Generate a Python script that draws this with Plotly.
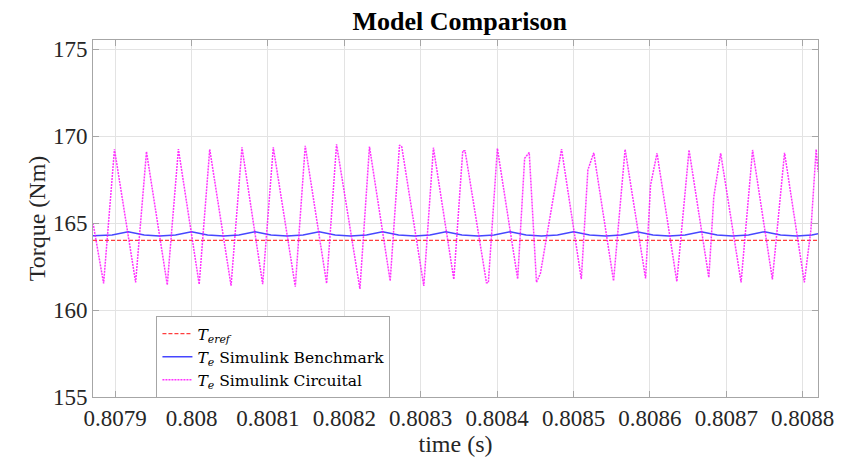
import plotly.graph_objects as go

# ---- data ----
x_ticks = [0.8079, 0.8080, 0.8081, 0.8082, 0.8083, 0.8084, 0.8085, 0.8086, 0.8087, 0.8088]
x_tick_labels = ["0.8079", "0.808", "0.8081", "0.8082", "0.8083", "0.8084", "0.8085", "0.8086", "0.8087", "0.8088"]
y_ticks = [155, 160, 165, 170, 175]
y_tick_labels = ["155", "160", "165", "170", "175"]

t_ref = [0.807871, 0.808820]
te_ref = [164.0, 164.0]

t_bench = [0.807871, 0.807896, 0.807917, 0.807938, 0.807958, 0.807979,
           0.808000, 0.808021, 0.808042, 0.808062,
           0.808083, 0.808104, 0.808125, 0.808146,
           0.808167, 0.808188, 0.808208, 0.808229,
           0.808250, 0.808271, 0.808292, 0.808312,
           0.808333, 0.808354, 0.808375, 0.808396,
           0.808417, 0.808438, 0.808458, 0.808479,
           0.808500, 0.808521, 0.808542, 0.808562,
           0.808583, 0.808604, 0.808625, 0.808646,
           0.808667, 0.808688, 0.808708, 0.808729,
           0.808750, 0.808771, 0.808792, 0.808812, 0.808820]
te_bench = [164.27, 164.31, 164.50, 164.31, 164.25, 164.31,
            164.50, 164.31, 164.25, 164.31,
            164.50, 164.31, 164.25, 164.31,
            164.50, 164.31, 164.25, 164.31,
            164.50, 164.31, 164.25, 164.31,
            164.50, 164.31, 164.25, 164.31,
            164.50, 164.31, 164.25, 164.31,
            164.50, 164.31, 164.25, 164.31,
            164.50, 164.31, 164.25, 164.31,
            164.50, 164.31, 164.25, 164.31,
            164.50, 164.31, 164.25, 164.31, 164.38]

t_circ = [0.807871, 0.8078849, 0.8078991, 0.8079268, 0.8079410, 0.8079682,
          0.8079828, 0.8080100, 0.8080238, 0.8080517, 0.8080660, 0.8080931,
          0.8081070, 0.8081358, 0.8081488, 0.8081768, 0.8081898, 0.8082204,
          0.8082329, 0.8082600, 0.8082722, 0.8082752, 0.8083040, 0.8083166,
          0.8083433, 0.8083550, 0.8083580, 0.8083860, 0.8083885, 0.8084003,
          0.8084269, 0.8084360, 0.8084420, 0.8084515, 0.8084567, 0.8084843,
          0.8085102, 0.8085188, 0.8085265, 0.8085524, 0.8085675, 0.8085943,
          0.8086008, 0.8086093, 0.8086352, 0.8086512, 0.8086771, 0.8086836,
          0.8086926, 0.8087193, 0.8087344, 0.8087603, 0.8087762, 0.8088021,
          0.8088107, 0.8088176, 0.8088200]
te_circ = [165.00, 161.53, 169.24, 161.59, 169.10, 161.44,
           169.25, 161.48, 169.24, 161.40, 169.35, 161.48,
           169.35, 161.34, 169.44, 161.53, 169.52, 161.21,
           169.39, 161.67, 169.48, 169.37, 161.38, 169.33,
           161.76, 169.16, 169.16, 161.57, 161.57, 169.29,
           161.78, 168.72, 169.06, 161.59, 162.11, 169.25,
           161.78, 168.05, 169.04, 161.67, 169.24, 161.82,
           167.18, 169.01, 161.63, 169.20, 161.86, 166.51,
           169.01, 161.59, 169.20, 161.76, 169.04, 161.59,
           164.60, 169.24, 167.95]

FONT = "Liberation Serif"

fig = go.Figure()
fig.add_trace(go.Scatter(
    x=t_ref, y=te_ref, mode="lines",
    name="<i>T</i><sub><i>eref</i></sub>",
    line=dict(color="rgba(255,40,40,0.9)", width=1.3, dash="4px,2px")))
fig.add_trace(go.Scatter(
    x=t_bench, y=te_bench, mode="lines",
    name="<i>T</i><sub><i>e</i></sub> Simulink Benchmark",
    line=dict(color="rgb(70,70,255)", width=1.4)))
fig.add_trace(go.Scatter(
    x=t_circ, y=te_circ, mode="lines",
    name="<i>T</i><sub><i>e</i></sub> Simulink Circuital",
    line=dict(color="rgba(255,0,255,0.8)", width=1.5, dash="2px,1px")))

axis_common = dict(
    showline=True, linecolor="#a6a6a6", linewidth=1, mirror="allticks",
    ticks="inside", ticklen=6, tickcolor="#a6a6a6",
    showgrid=True, gridcolor="#e3e3e3", gridwidth=1, zeroline=False,
    tickfont=dict(family=FONT, size=23, color="#262626"),
)

fig.update_layout(
    width=846, height=463,
    margin=dict(l=93, r=18, t=40, b=66),
    paper_bgcolor="white", plot_bgcolor="white",
    title=dict(text="<b>Model Comparison</b>", x=0.5435, xanchor="center",
               y=0.955, yanchor="middle",
               font=dict(family=FONT, size=26, color="black")),
    xaxis=dict(range=[0.807871, 0.808820], tickvals=x_ticks, ticktext=x_tick_labels,
               title=dict(text="time (s)", font=dict(family=FONT, size=24, color="#262626"),
                          standoff=4),
               **axis_common),
    yaxis=dict(range=[155, 175.52], tickvals=y_ticks, ticktext=y_tick_labels,
               title=dict(text="Torque (Nm)", font=dict(family=FONT, size=24, color="#262626"),
                          standoff=0),
               **axis_common),
    legend=dict(x=0.0875, y=0.227, xanchor="left", yanchor="top",
                bgcolor="white", bordercolor="#a6a6a6", borderwidth=1,
                font=dict(family="DejaVu Serif", size=15.5, color="black"),
                tracegroupgap=0, itemwidth=30),
    showlegend=True,
)

fig.write_html("out.html")
